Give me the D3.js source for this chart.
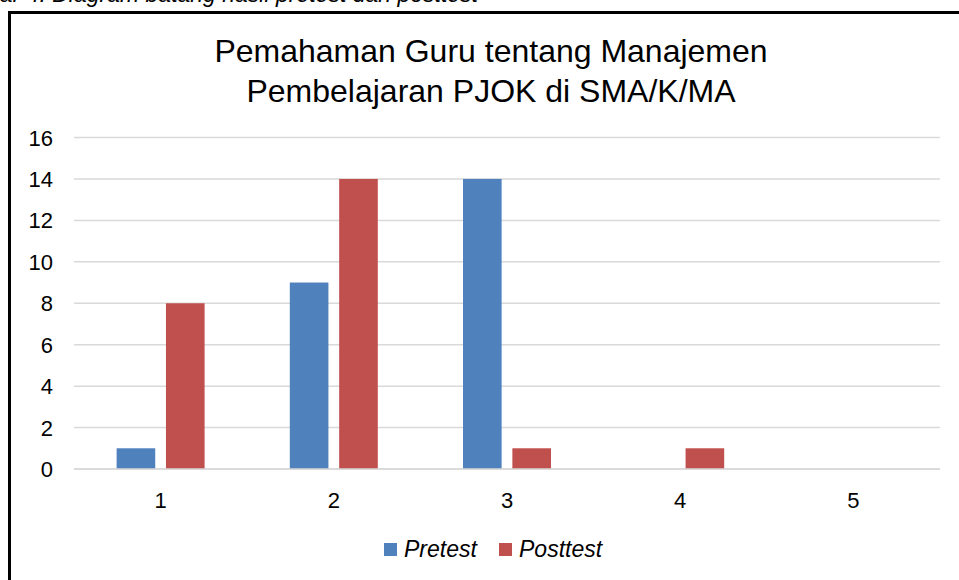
<!DOCTYPE html>
<html>
<head>
<meta charset="utf-8">
<script src="https://cdn.jsdelivr.net/npm/d3@7"></script>
<style>
  body { margin: 0; background: #fff; overflow: hidden; }
  text { font-family: "Liberation Sans", Arial, sans-serif; }
</style>
</head>
<body>
<script>
var categories = ["1", "2", "3", "4", "5"];
var pretest = [1, 9, 14, 0, 0];
var posttest = [8, 14, 1, 1, 0];
var seriesNames = ["Pretest", "Posttest"];
var colors = ["#4F81BD", "#C0504D"];
var yTicks = [0, 2, 4, 6, 8, 10, 12, 14, 16];

var width = 959, height = 580;
var margin = {left: 74, right: 19, top: 137.5, bottom: 111};

var svg = d3.select("body").append("svg")
    .attr("width", width)
    .attr("height", height);

// caption cut off at the top of the page
svg.append("text")
    .attr("x", 478)
    .attr("y", 2)
    .attr("text-anchor", "end")
    .style("font-size", "23px")
    .style("font-style", "italic")
    .text("Gambar 4. Diagram batang hasil pretest dan posttest");

// frame
svg.append("rect")
    .attr("x", 9.5)
    .attr("y", 12.5)
    .attr("width", 970)
    .attr("height", 600)
    .style("fill", "none")
    .style("stroke", "#000")
    .style("stroke-width", 3);

svg.append("text")
    .attr("text-anchor", "middle")
    .style("font-size", "32px")
    .style("fill", "#000")
    .selectAll("tspan")
    .data(["Pemahaman Guru tentang Manajemen", "Pembelajaran PJOK di SMA/K/MA"])
    .enter().append("tspan")
    .attr("x", 491)
    .attr("y", function(d, i) { return 62 + i * 40; })
    .text(function(d) { return d; });

var x = d3.scaleBand()
    .domain(categories)
    .range([margin.left, width - margin.right]);

var y = d3.scaleLinear()
    .domain([0, 16])
    .range([height - margin.bottom, margin.top]);

var barW = x.step() * 0.223, gap = x.step() * 0.062;

// gridlines
svg.append("g")
    .selectAll("line")
    .data(yTicks)
    .enter().append("line")
    .attr("x1", margin.left)
    .attr("x2", width - margin.right)
    .attr("y1", function(d) { return y(d); })
    .attr("y2", function(d) { return y(d); })
    .style("stroke", "#D9D9D9")
    .style("stroke-width", 1.5);

// y labels
svg.append("g")
    .selectAll("text")
    .data(yTicks)
    .enter().append("text")
    .attr("x", 53)
    .attr("y", function(d) { return y(d) + 8; })
    .attr("text-anchor", "end")
    .style("font-size", "22px")
    .text(function(d) { return d; });

// bars
[pretest, posttest].forEach(function(vals, s) {
    svg.append("g")
        .selectAll("rect")
        .data(vals)
        .enter().append("rect")
        .attr("x", function(d, i) {
            var c = x(categories[i]) + x.bandwidth() / 2;
            return s === 0 ? c - gap / 2 - barW : c + gap / 2;
        })
        .attr("y", function(d) { return y(d); })
        .attr("width", barW)
        .attr("height", function(d) { return y(0) - y(d); })
        .style("fill", colors[s]);
});

// baseline
svg.append("line")
    .attr("x1", margin.left)
    .attr("x2", width - margin.right)
    .attr("y1", y(0))
    .attr("y2", y(0))
    .style("stroke", "#D9D9D9")
    .style("stroke-width", 1.5);

// x labels
svg.append("g")
    .selectAll("text")
    .data(categories)
    .enter().append("text")
    .attr("x", function(d) { return x(d) + x.bandwidth() / 2; })
    .attr("y", 508)
    .attr("text-anchor", "middle")
    .style("font-size", "22px")
    .text(function(d) { return d; });

// legend
var legendX = [384, 499];
seriesNames.forEach(function(name, s) {
    svg.append("rect")
        .attr("x", legendX[s])
        .attr("y", 543)
        .attr("width", 13)
        .attr("height", 13)
        .style("fill", colors[s]);
    svg.append("text")
        .attr("x", legendX[s] + 20)
        .attr("y", 557)
        .style("font-size", "23px")
        .style("font-style", "italic")
        .text(name);
});
</script>
</body>
</html>
